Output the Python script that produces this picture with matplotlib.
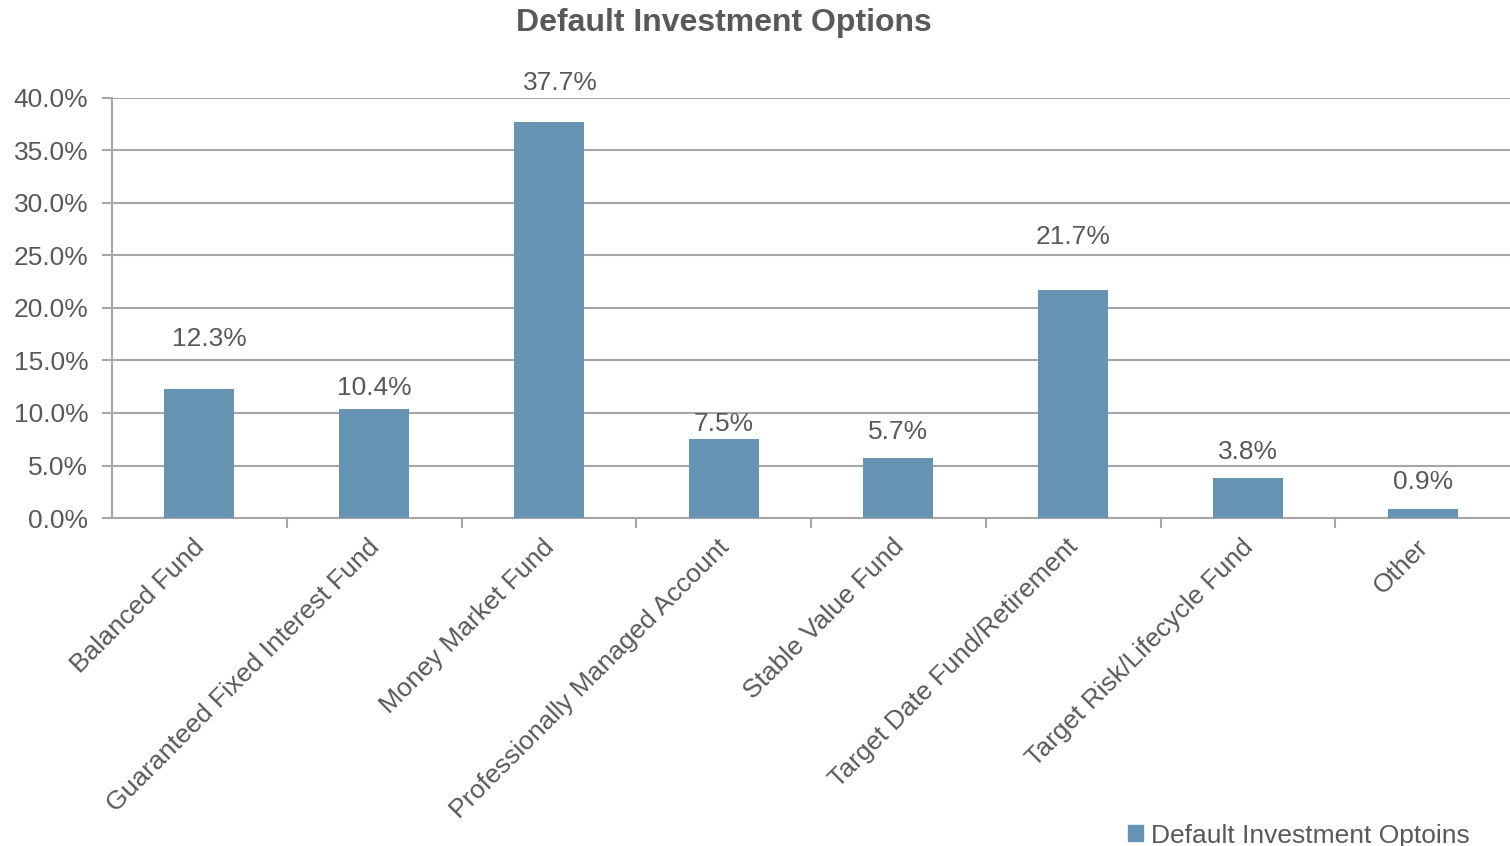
import matplotlib.pyplot as plt
from matplotlib.ticker import FuncFormatter
from matplotlib.patches import Patch

plt.rcParams['font.family'] = ['Liberation Sans', 'DejaVu Sans']

# Data
categories = ["Balanced Fund", "Guaranteed Fixed Interest Fund", "Money Market Fund",
              "Professionally Managed Account", "Stable Value Fund",
              "Target Date Fund/Retirement", "Target Risk/Lifecycle Fund", "Other"]
shares = [12.3, 10.4, 37.7, 7.5, 5.7, 21.7, 3.8, 0.9]
series_name = "Default Investment Optoins"

# offsets (points) of each value label from the top of its bar
label_lift = [36, 15, 28, 11, 19, 38, 19, 19]
label_shift = [7, 0, 8, 0, 0, 0, 0, 0]

text_color = "#595959"
bar_color = "#6794B2"
grid_color = "#A6A6A6"

fig = plt.figure(figsize=(15.1, 8.46), dpi=100)
ax = fig.add_axes([0.0742, 0.3877, 0.9258, 0.4965])

x = range(len(categories))
ax.bar(x, shares, width=0.4, color=bar_color, zorder=3)

for i, v in enumerate(shares):
    ax.annotate(f"{v:.1f}%", (i, v), xytext=(label_shift[i], label_lift[i]),
                textcoords="offset points", ha="center", va="center",
                fontsize=19, color=text_color)

ax.set_xlim(-0.5, len(categories) - 0.5)
ax.set_ylim(0, 40)
ax.set_yticks(range(0, 41, 5))
ax.yaxis.set_major_formatter(FuncFormatter(lambda v, p: f"{v:.1f}%"))
ax.grid(axis="y", color=grid_color, linewidth=1.5, zorder=0)

# tick marks sit between categories; category names drawn under bar centres
ax.set_xticks([i + 0.5 for i in range(len(categories) - 1)])
ax.set_xticklabels([])
for i, name in enumerate(categories):
    ax.annotate(name, (i, 0), xycoords=("data", "axes fraction"),
                xytext=(-5, -12), textcoords="offset points",
                rotation=45, rotation_mode="anchor", ha="right", va="top",
                fontsize=19, color=text_color)
ax.tick_params(axis="x", which="major", length=7, width=1.5, color=grid_color)
ax.tick_params(axis="y", length=7, width=1.5, color=grid_color,
               labelsize=19, labelcolor=text_color, pad=10)

for side in ["top", "right"]:
    ax.spines[side].set_visible(False)
for side in ["left", "bottom"]:
    ax.spines[side].set_color(grid_color)
    ax.spines[side].set_linewidth(1.5)

fig.text(0.4795, 0.973, "Default Investment Options", ha="center", va="center",
         fontsize=23, fontweight="bold", color=text_color)

fig.legend(handles=[Patch(color=bar_color, label=series_name)],
           loc="lower right", bbox_to_anchor=(0.989, -0.03), frameon=False,
           fontsize=19, labelcolor=text_color, handlelength=0.55,
           handleheight=0.55, handletextpad=0.3)

fig.savefig("out.png", dpi=100)
